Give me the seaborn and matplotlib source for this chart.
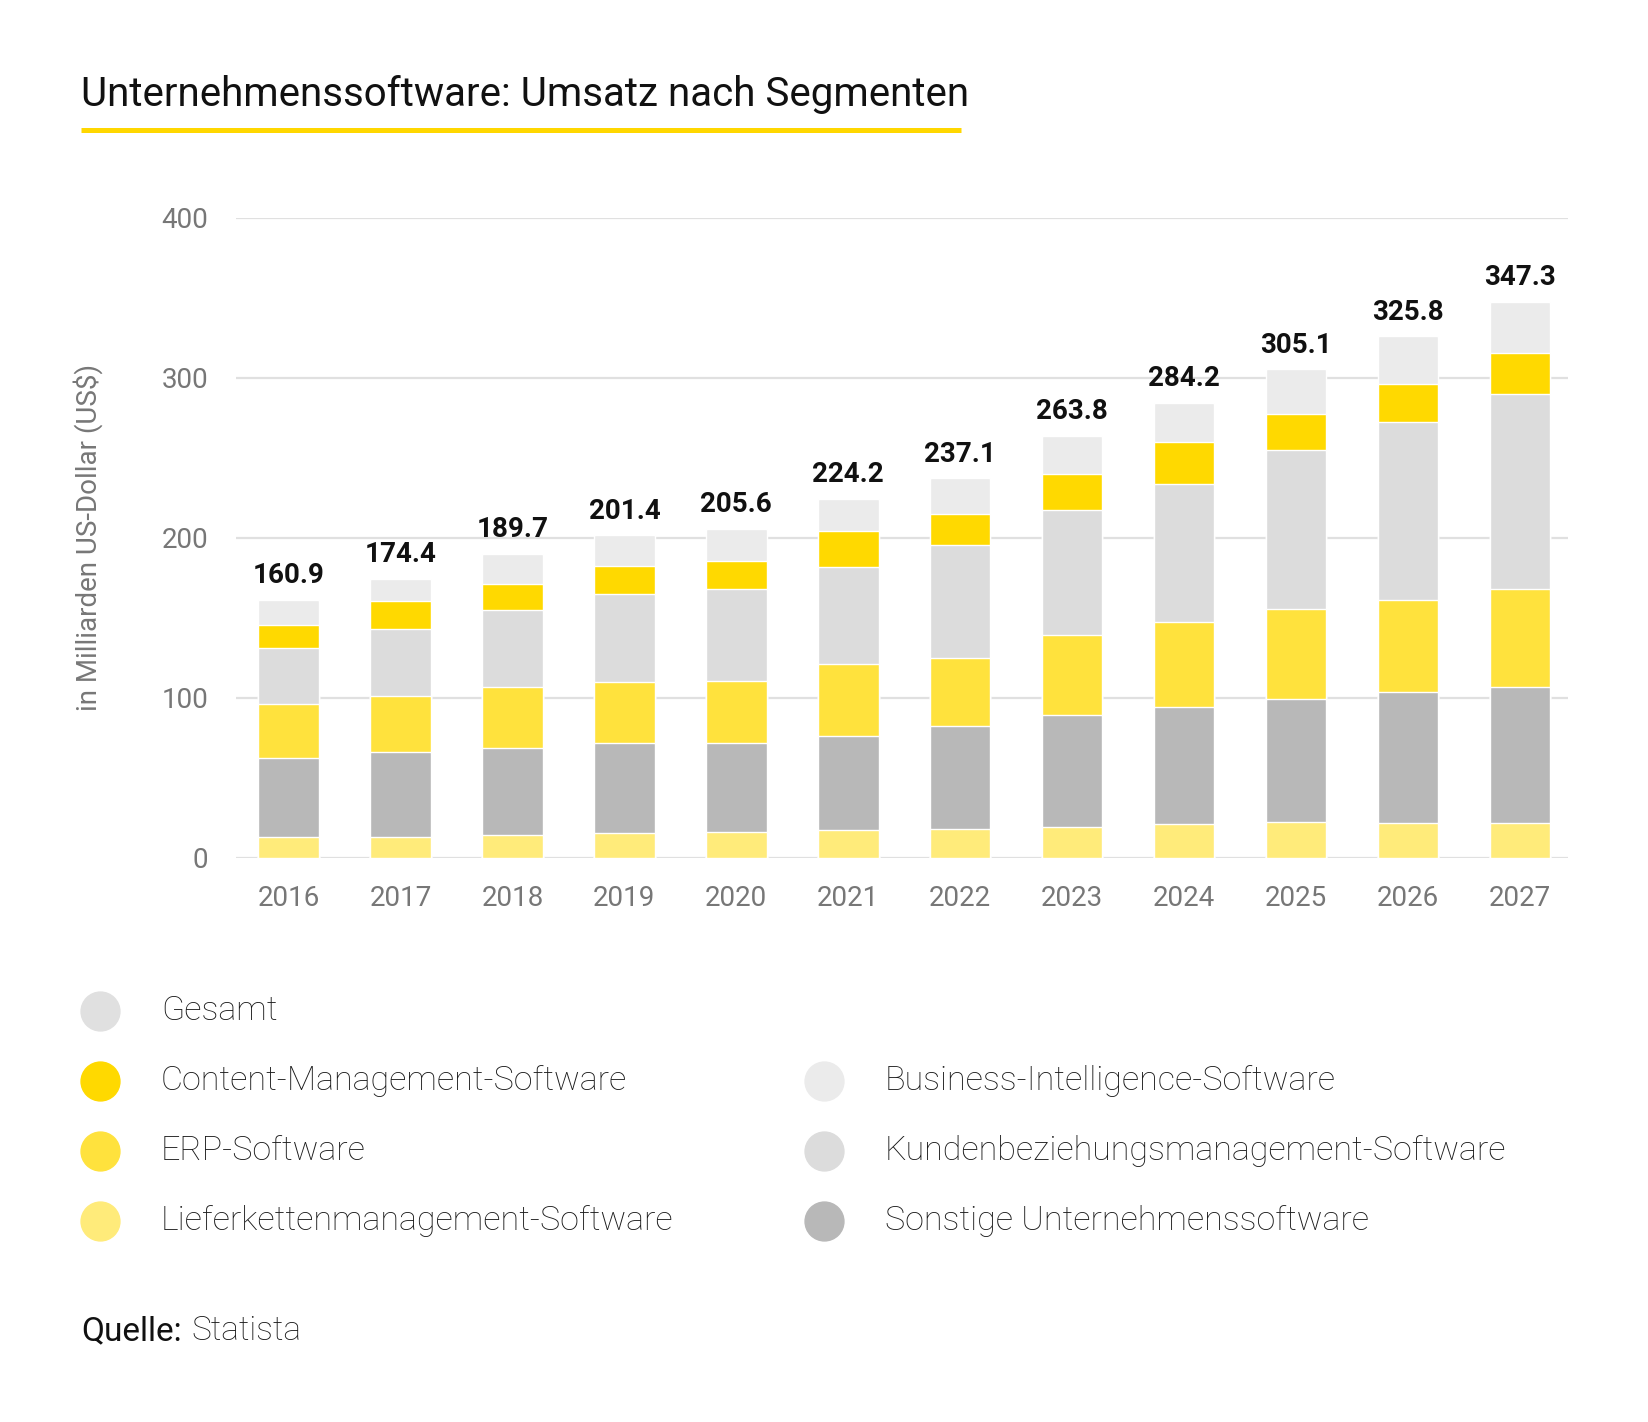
import numpy as np
import pandas as pd
import matplotlib
matplotlib.use("Agg")
import matplotlib.pyplot as plt
from matplotlib.lines import Line2D
import seaborn as sns

# Werte in Mrd. US-Dollar
years = ["2016", "2017", "2018", "2019", "2020", "2021",
         "2022", "2023", "2024", "2025", "2026", "2027"]
totals = [160.9, 174.4, 189.7, 201.4, 205.6, 224.2,
          237.1, 263.8, 284.2, 305.1, 325.8, 347.3]

supply_chain = [12.7, 13.1, 14.2, 15.6, 15.7, 17.0, 18.1, 19.1, 20.7, 22.4, 21.9, 21.9]
other = [49.5, 52.8, 54.2, 55.9, 56.2, 59.0, 64.0, 69.9, 73.7, 76.9, 81.7, 84.9]
erp = [33.5, 35.2, 38.3, 38.3, 38.3, 44.9, 42.8, 50.0, 52.6, 55.9, 57.7, 60.8]
crm = [35.1, 41.6, 48.0, 54.7, 57.4, 60.7, 70.3, 78.3, 86.8, 99.5, 110.7, 122.2]
cms = [14.4, 17.5, 16.0, 17.5, 17.7, 22.4, 19.3, 22.5, 25.8, 22.4, 23.9, 25.5]
bi = [15.7, 14.2, 19.0, 19.4, 20.3, 20.2, 22.6, 24.0, 24.6, 28.0, 29.9, 32.0]

# Reihenfolge von unten nach oben
segments = {
    "Lieferkettenmanagement-Software": (supply_chain, "#FFEB7A"),
    "Sonstige Unternehmenssoftware": (other, "#B8B8B8"),
    "ERP-Software": (erp, "#FFE23D"),
    "Kundenbeziehungsmanagement-Software": (crm, "#DCDCDC"),
    "Content-Management-Software": (cms, "#FFD900"),
    "Business-Intelligence-Software": (bi, "#EBEBEB"),
}

sns.set_theme(style="white")
plt.rcParams["font.family"] = ["Roboto", "DejaVu Sans"]

fig = plt.figure(figsize=(16.48, 14.22), dpi=100)
ax = fig.add_axes([0.1432, 0.3969, 0.8083, 0.4501])

# gestapelte Balken: kumulierte Summen, die größte zuerst zeichnen
names = list(segments.keys())
cum = np.cumsum([segments[n][0] for n in names], axis=0)
for i in range(len(names) - 1, -1, -1):
    df = pd.DataFrame({"Jahr": years, "Wert": cum[i]})
    sns.barplot(data=df, x="Jahr", y="Wert", color=segments[names[i]][1],
                saturation=1, width=0.54, ax=ax, zorder=3)

for i, t in enumerate(totals):
    ax.annotate(f"{t:.1f}", (i, t), xytext=(0, 12), textcoords="offset points",
                ha="center", va="baseline", fontsize=20, fontweight="bold",
                color="#111111")

ax.set_ylim(0, 400)
ax.set_xlim(-0.47, 11.43)
ax.set_yticks([0, 100, 200, 300, 400])
ax.yaxis.grid(True, color="#E0E0E0", linewidth=1.6, zorder=0)
ax.set_axisbelow(True)
for s in ax.spines.values():
    s.set_visible(False)
ax.tick_params(axis="both", length=0, labelsize=20, labelcolor="#777777")
ax.tick_params(axis="x", pad=20)
ax.tick_params(axis="y", pad=20)
ax.set_xlabel("")
ax.set_ylabel("in Milliarden US-Dollar (US$)", fontsize=20, color="#777777")
ax.yaxis.set_label_coords(-0.100, 0.5)

# Titel mit gelber Linie
W, H = 1648, 1422
fig.text(81 / W, 1 - 95 / H, "Unternehmenssoftware: Umsatz nach Segmenten",
         fontsize=29, color="#111111", va="center", ha="left")
fig.add_artist(Line2D([81 / W, 961 / W], [1 - 130 / H, 1 - 130 / H],
                      color="#FFD700", linewidth=3.6, solid_capstyle="butt"))

# Legende von Hand gesetzt
legend_items = [
    ("Gesamt", "#E0E0E0", 0, 0),
    ("Content-Management-Software", "#FFD900", 0, 1),
    ("ERP-Software", "#FFE23D", 0, 2),
    ("Lieferkettenmanagement-Software", "#FFEB7A", 0, 3),
    ("Business-Intelligence-Software", "#EBEBEB", 1, 1),
    ("Kundenbeziehungsmanagement-Software", "#DCDCDC", 1, 2),
    ("Sonstige Unternehmenssoftware", "#B8B8B8", 1, 3),
]
col_x = [100, 824]
row_y = [1011, 1081, 1151, 1221]
for label, color, c, r in legend_items:
    y = 1 - row_y[r] / H
    fig.add_artist(Line2D([col_x[c] / W], [y], marker="o", markersize=28,
                          color=color, linestyle="none"))
    fig.text((col_x[c] + 61) / W, y, label, fontsize=24.5, fontweight="light",
             color="#1A1A1A", va="center", ha="left")

fig.text(81 / W, 1 - 1331 / H, "Quelle:", fontsize=24, color="#111111",
         va="center", ha="left")
fig.text(191 / W, 1 - 1331 / H, "Statista", fontsize=24, fontweight="light",
         color="#1A1A1A", va="center", ha="left")

fig.savefig("out.png", dpi=100, facecolor="white")
